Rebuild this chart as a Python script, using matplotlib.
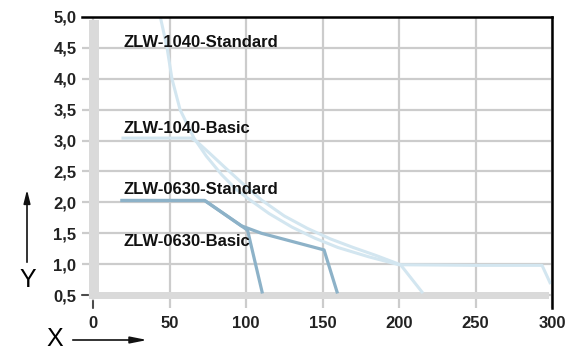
import matplotlib.pyplot as plt
from matplotlib.patches import Rectangle, FancyArrowPatch

plt.rcParams['font.family'] = ['Liberation Sans', 'DejaVu Sans']

# Kurven
std1040_x = [44, 48.4, 51.6, 56.9, 66, 74, 84, 94, 102.6, 115, 130, 145, 160, 180, 200, 250, 293.5, 298.7]
std1040_y = [5.0, 4.5, 4.0, 3.5, 3.04, 2.75, 2.45, 2.2, 2.04, 1.82, 1.6, 1.42, 1.27, 1.12, 0.99, 0.98, 0.98, 0.7]
bas1040_x = [19.6, 64, 68, 76, 86, 98, 110, 125, 140, 155, 170, 185, 201, 215]
bas1040_y = [3.04, 3.04, 2.98, 2.8, 2.57, 2.3, 2.04, 1.78, 1.58, 1.41, 1.27, 1.14, 0.99, 0.55]
std0630_x = [19, 73, 97, 110, 151, 159.5]
std0630_y = [2.03, 2.03, 1.62, 1.5, 1.23, 0.55]
bas0630_x = [19, 73, 101, 110.5]
bas0630_y = [2.03, 2.03, 1.55, 0.55]

labels = ['ZLW-1040-Standard', 'ZLW-1040-Basic', 'ZLW-0630-Standard', 'ZLW-0630-Basic']
label_y = [4.59, 3.20, 2.20, 1.36]

xticks = [0, 50, 100, 150, 200, 250, 300]
yticks = [0.5, 1.0, 1.5, 2.0, 2.5, 3.0, 3.5, 4.0, 4.5, 5.0]
ytick_labels = ['0,5', '1,0', '1,5', '2,0', '2,5', '3,0', '3,5', '4,0', '4,5', '5,0']

fig = plt.figure(figsize=(5.7, 3.51), dpi=100)
ax = fig.add_axes([82/570, 43/351, 470/570, 291/351])
ax.set_xlim(-7.2, 300)
ax.set_ylim(0.29, 5.0)

ax.spines['left'].set_visible(False)
ax.spines['bottom'].set_visible(False)
ax.spines['top'].set_linewidth(1.8)
ax.spines['right'].set_linewidth(1.8)

ax.set_xticks(xticks)
ax.set_yticks(yticks)
ax.set_yticklabels(ytick_labels)
ax.tick_params(length=0, labelsize=12, colors='#222222')
ax.tick_params(axis='y', pad=4)
ax.tick_params(axis='x', pad=6)
for lbl in ax.get_xticklabels() + ax.get_yticklabels():
    lbl.set_fontweight('bold')
ax.grid(True, color='#cccccc', lw=1.6)
ax.set_axisbelow(True)

# graue Balken links und unten
ax.add_patch(Rectangle((-2.6, 0.43), 6.5, 4.52, color='#dadada', lw=0, zorder=1.5))
ax.add_patch(Rectangle((-2.6, 0.435), 300.6, 0.115, color='#dadada', lw=0, zorder=1.5))
ax.plot([-7, -3.6], [0.5, 0.5], color='#333333', lw=1.2, clip_on=False, zorder=3)
ax.plot([0, 0], [0.41, 0.29], color='#333333', lw=1.2, clip_on=False, zorder=3)

ax.plot(std1040_x, std1040_y, color='#d3e6f0', lw=2.2, zorder=2, solid_joinstyle='round')
ax.plot(bas1040_x, bas1040_y, color='#d3e6f0', lw=2.2, zorder=2, solid_joinstyle='round')
ax.plot(std0630_x, std0630_y, color='#8db2c8', lw=2.3, zorder=2.2)
ax.plot(bas0630_x, bas0630_y, color='#8db2c8', lw=2.3, zorder=2.2)

for t, y in zip(labels, label_y):
    ax.text(19.6, y, t, fontsize=12, fontweight='bold', color='#111111',
            va='center', ha='left', zorder=4)

# Achsenbeschriftungen mit Pfeilen
fig.text(28/570, 1 - 280/351, 'Y', fontsize=18, ha='center', va='center')
fig.text(55/570, 1 - 339/351, 'X', fontsize=18, ha='center', va='center')
fig.patches.append(FancyArrowPatch(
    (27/570, 1 - 265/351), (27/570, 1 - 187/351), transform=fig.transFigure,
    arrowstyle='-|>,head_length=8,head_width=2', color='#111111', lw=1.2))
fig.patches.append(FancyArrowPatch(
    (70/570, 1 - 340/351), (150/570, 1 - 340/351), transform=fig.transFigure,
    arrowstyle='-|>,head_length=10,head_width=2', color='#111111', lw=1.2))

fig.savefig('out.png', dpi=100)
